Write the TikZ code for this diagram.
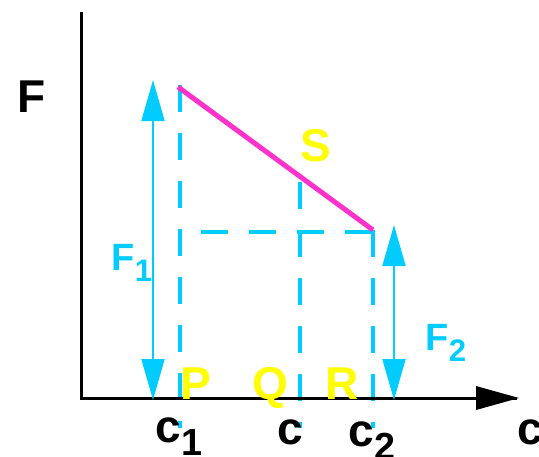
\documentclass[tikz,border=0pt]{standalone}
\usepackage{fontspec}
\setmainfont{Liberation Sans}
\usepackage{graphicx}
\usepackage{tikz}
\usetikzlibrary{arrows.meta,positioning}
\definecolor{skyline}{RGB}{0,204,255}
\definecolor{pinkline}{RGB}{255,51,204}
\definecolor{yellowtxt}{RGB}{255,255,0}
\newcommand{\lowsub}[1]{\raisebox{-0.3em}{\scalebox{0.82}{#1}}}

\begin{document}
\begin{tikzpicture}[x=1pt,y=-1pt,
  axis/.style={line width=3pt,black},
  guide/.style={line width=4.5pt,skyline,dash pattern=on 27pt off 21pt},
  force/.style={line width=2pt,skyline,{Triangle[length=41pt,width=23pt]}-{Triangle[length=41pt,width=23pt]}},
  biglabel/.style={font=\fontsize{46}{46}\selectfont\bfseries,inner sep=0pt,anchor=base},
  flabel/.style={font=\fontsize{38}{38}\selectfont\bfseries,inner sep=0pt,anchor=base,text=skyline},
  region/.style={biglabel,text=yellowtxt}]
  \useasboundingbox (0,0) rectangle (539,456);
  \coordinate (origin) at (81,398);
  \coordinate (ytop) at (81,12);
  \coordinate (xend) at (519,398);
  \coordinate (top) at (178,87);
  \coordinate (low) at (373,230);
  \coordinate (mid) at (300,177);
  \coordinate (c1head) at (180,85);
  \coordinate (c1foot) at (180,428);
  \coordinate (cfoot) at (300,428);
  \coordinate (c2foot) at (373,428);
  \coordinate (corner) at (180,232);
  \coordinate (cornerend) at (375,232);
  \coordinate (f1top) at (153,80);
  \coordinate (f1bot) at (153,400);
  \coordinate (f2top) at (394,225);
  \coordinate (f2bot) at (394,400);
  \draw[guide] (c1head) -- (c1foot);
  \draw[guide,dash phase=43pt] (mid) -- (cfoot);
  \draw[guide] (low) -- (c2foot);
  \draw[guide,dash phase=27pt] (corner) -- (cornerend);
  \draw[axis] (ytop) -- (origin.center) -- ([xshift=-2pt]xend);
  \fill (xend) -- (476,386) -- (476,410) -- cycle;
  \draw[line width=5pt,pinkline] (top) -- (low);
  \draw[force] (f1top) -- (f1bot);
  \draw[force] (f2top) -- (f2bot);
  \node[biglabel] (F) at (32,112) {F};
  \node[flabel] (F1) at (132,270) {F\lowsub{1}};
  \node[flabel] (F2) at (446,350) {F\lowsub{2}};
  \node[region] (S) at (316,161) {S};
  \node[region] (P) at (196,399) {P};
  \node[region] (Q) at (270,399) {Q};
  \node[region] (R) at (342,399) {R};
  \node[biglabel] (c1) at (179,442) {c\lowsub{1}};
  \node[biglabel] (c) at (290,444) {c};
  \node[biglabel] (c2) at (372,446) {c\lowsub{2}};
  \node[biglabel] (cax) at (530,444) {c};
\end{tikzpicture}
\end{document}
